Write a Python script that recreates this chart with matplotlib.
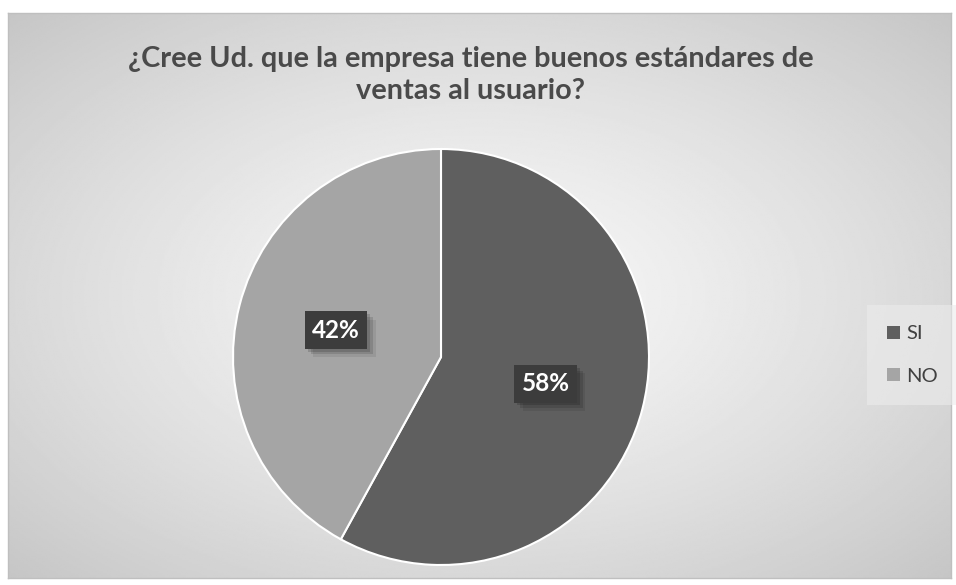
import numpy as np
import matplotlib
matplotlib.use('Agg')
import matplotlib.pyplot as plt
import matplotlib.patheffects as pe

# Data
labels = ['SI', 'NO']
values = [58, 42]
colors = ['#5f5f5f', '#a5a5a5']
title = '¿Cree Ud. que la empresa tiene buenos estándares de\nventas al usuario?'

W, H = 956, 585
fig = plt.figure(figsize=(W / 100, H / 100), dpi=100)
fig.patch.set_facecolor('white')

# Chart area background with radial gradient
bg = fig.add_axes([8 / W, (H - 578) / H, (951 - 8) / W, (578 - 13) / H])
yy, xx = np.mgrid[0:1:300j, 0:1:500j]
d = np.sqrt(((xx - 0.5) / 0.75) ** 2 + ((yy - 0.5) / 0.75) ** 2)
shade = 0.97 - 0.21 * np.clip(d, 0, 1) ** 1.3
bg.imshow(shade, cmap='gray', vmin=0, vmax=1, aspect='auto', extent=[0, 1, 0, 1])
bg.set_xticks([])
bg.set_yticks([])
for s in bg.spines.values():
    s.set_color('#bfbfbf')
    s.set_linewidth(1)

# Title
fig.text(471 / W, 1 - 75 / H, title, ha='center', va='center', fontsize=20.8,
         fontweight='bold', color='#4a4a4a', family='Lato', linespacing=1.25)

# Pie
cx, cy, r = 441, 357, 208
ax = fig.add_axes([(cx - r) / W, (H - cy - r) / H, 2 * r / W, 2 * r / H])
plt.rcParams['hatch.color'] = '#555555'
plt.rcParams['hatch.linewidth'] = 1.5
wedges, texts, autotexts = ax.pie(values, colors=colors, startangle=90, counterclock=False,
                                  autopct='%1.0f%%', pctdistance=0.52,
                                  wedgeprops=dict(edgecolor='white', linewidth=1.5),
                                  textprops=dict(color='white', fontsize=17.5, fontweight='bold',
                                                 family='Lato'))
for t in autotexts:
    t.set_bbox(dict(boxstyle='square,pad=0.3', facecolor='#3c3c3c', edgecolor='none', hatch='..'))
    t.get_bbox_patch().set_path_effects([
        pe.SimplePatchShadow(offset=(6, -6), shadow_rgbFace='black', alpha=0.08),
        pe.SimplePatchShadow(offset=(4, -4), shadow_rgbFace='black', alpha=0.12),
        pe.SimplePatchShadow(offset=(2, -2), shadow_rgbFace='black', alpha=0.15),
        pe.Normal()])
ax.set_xlim(-1, 1)
ax.set_ylim(-1, 1)
ax.set_aspect('equal')

# Legend
leg = fig.legend(wedges, labels, loc='center left', bbox_to_anchor=(873 / W, 1 - 355 / H),
                 frameon=True, fontsize=14.5, handlelength=0.65, handleheight=0.65,
                 labelspacing=1.25, handletextpad=0.3, borderpad=0.7, borderaxespad=0)
leg.get_frame().set_facecolor('#ececec')
leg.get_frame().set_edgecolor('none')
leg.get_frame().set_alpha(0.6)
leg.get_frame().set_boxstyle('square')
for t in leg.get_texts():
    t.set_color('#404040')
    t.set_family('Lato')
for h in leg.legend_handles:
    h.set_edgecolor('none')

fig.savefig('out.png', dpi=100)
